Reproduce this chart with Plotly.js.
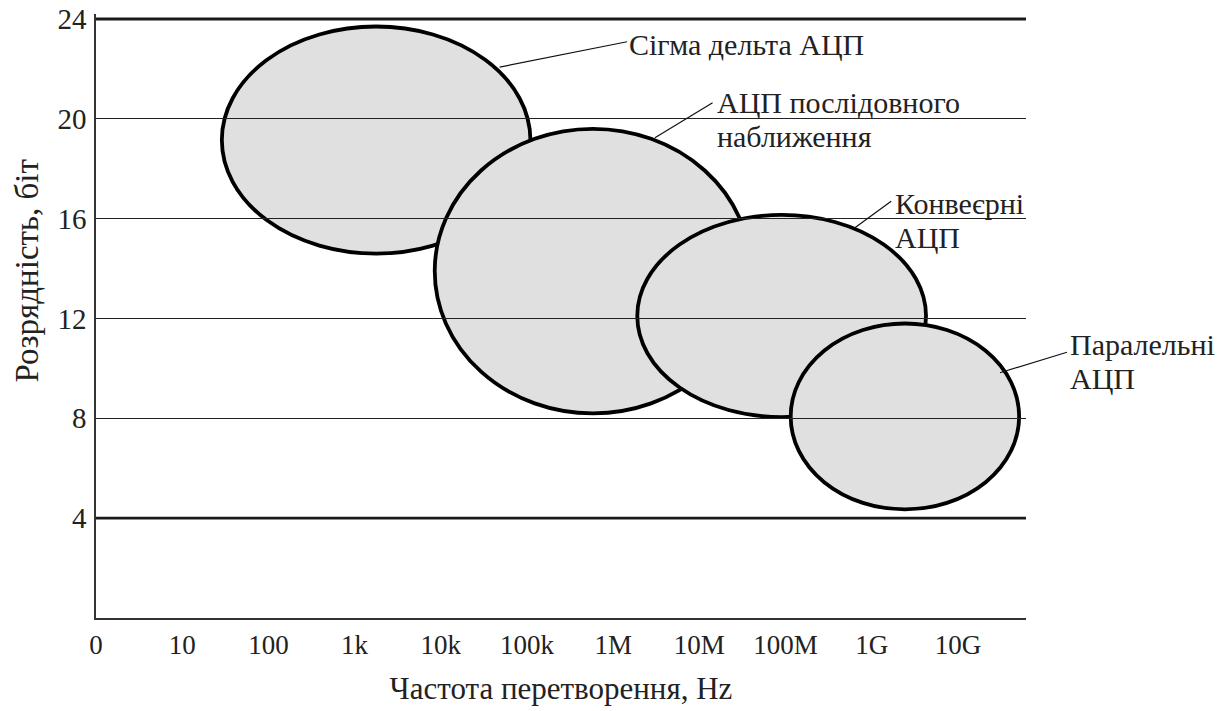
<!DOCTYPE html>
<html>
<head>
<meta charset="utf-8">
<script src="https://cdn.plot.ly/plotly-3.0.1.min.js"></script>
<style>html,body{margin:0;padding:0;background:#fff;}#chart{width:1220px;height:711px;}</style>
</head>
<body>
<div id="chart"></div>
<script>
// Frequency axis: decade index (0 -> "0", i -> 10^i Hz)
const freqTickPos = [0,1,2,3,4,5,6,7,8,9,10];
const freqLabels = ['0','10','100','1k','10k','100k','1M','10M','100M','1G','10G'];
const bitTicks = [4,8,12,16,20,24];
const boldLevels = [4,24];

// ADC families: frequency extent (decade index) and resolution extent (bits)
const adcNames = ['Сігма дельта АЦП', 'АЦП послідовного<br>наближення', 'Конвеєрні<br>АЦП', 'Паралельні<br>АЦП'];
const freqLow  = [1.46, 3.93, 6.28, 8.06];
const freqHigh = [5.04, 7.60, 9.63, 10.71];
const bitsLow  = [14.6, 8.2, 8.05, 4.35];
const bitsHigh = [23.7, 19.6, 16.15, 11.8];

// label placement (paper coords, first line) and leader lines
const labelX = [0.571, 0.666, 0.857, 1.045];
const labelY = [0.949, 0.853, 0.687, 0.452];
const lineGap = 0.0563;
const leadX0 = [0.434, 0.601, 0.816, 0.972];
const leadY0 = [0.912, 0.795, 0.646, 0.406];
const leadX1 = [0.571, 0.663, 0.855, 1.044];
const leadY1 = [0.954, 0.853, 0.690, 0.440];

const FONT = 'Liberation Serif, Times New Roman, serif';
const shapes = [];
for (let i = 0; i < adcNames.length; i++) {
  shapes.push({type:'circle', xref:'x', yref:'y', layer:'below',
    x0: freqLow[i], x1: freqHigh[i], y0: bitsLow[i], y1: bitsHigh[i],
    fillcolor:'#e0e0e0', line:{color:'#000', width:3.8}});
}
boldLevels.forEach(v => shapes.push({type:'line', xref:'paper', yref:'y', layer:'above',
  x0:0, x1:1, y0:v, y1:v, line:{color:'#1a1a1a', width:2.8}}));
for (let i = 0; i < adcNames.length; i++) {
  shapes.push({type:'line', xref:'paper', yref:'paper', layer:'above',
    x0: leadX0[i], y0: leadY0[i], x1: leadX1[i], y1: leadY1[i], line:{color:'#111', width:1.2}});
}

const annotations = [];
adcNames.forEach((name, i) => {
  name.split('<br>').forEach((line, k) => {
    annotations.push({
      text: line, xref:'paper', yref:'paper', x: labelX[i], y: labelY[i] - k*lineGap,
      xanchor:'left', yanchor:'middle', align:'left', showarrow:false,
      font:{family:FONT, size:30, color:'#222'}
    });
  });
});
annotations.push({text:'Розрядність, біт', xref:'paper', yref:'paper', x:-0.074, y:0.574,
  xanchor:'center', yanchor:'middle', textangle:-90, showarrow:false,
  font:{family:FONT, size:33, color:'#222'}});

const layout = {
  width:1220, height:711,
  margin:{l:96, r:194, t:14, b:93, pad:0},
  paper_bgcolor:'#fff', plot_bgcolor:'rgba(0,0,0,0)',
  showlegend:false,
  xaxis:{range:[0,10.79], tickmode:'array', tickvals:freqTickPos, ticktext:freqLabels,
    showgrid:false, zeroline:false, showline:true, linecolor:'#333', linewidth:2,
    ticks:'', ticklabelstandoff:2,
    tickfont:{family:FONT, size:27, color:'#222'},
    title:{text:'Частота перетворення, Hz', standoff:18, font:{family:FONT, size:31, color:'#222'}},
    fixedrange:true},
  yaxis:{range:[0,24.2], tickmode:'array', tickvals:bitTicks,
    showgrid:true, gridcolor:'#222', gridwidth:1.2, zeroline:false,
    showline:true, linecolor:'#333', linewidth:1.8,
    ticks:'', ticklabelstandoff:2,
    tickfont:{family:FONT, size:29, color:'#222'}, fixedrange:true},
  shapes: shapes,
  annotations: annotations
};

Plotly.newPlot('chart', [{x:[], y:[], type:'scatter', hoverinfo:'skip'}], layout, {displayModeBar:false, staticPlot:true});
</script>
</body>
</html>
